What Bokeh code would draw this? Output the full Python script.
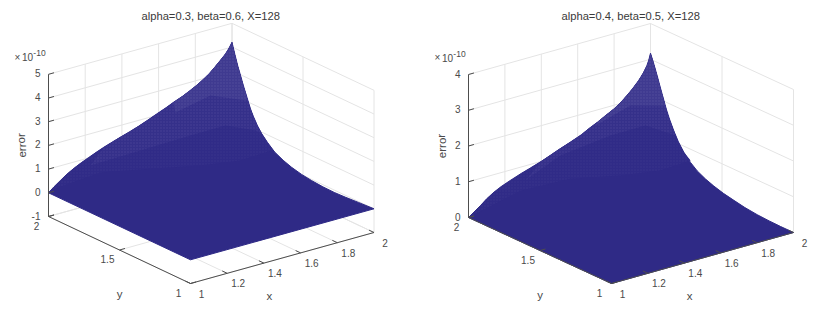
from bokeh.plotting import figure
from bokeh.layouts import row
from bokeh.models import Range1d
from bokeh.embed import file_html
from bokeh.resources import INLINE
from bokeh.core.properties import value

# ---- data -----------------------------------------------------------------
x_ticks = [1, 1.2, 1.4, 1.6, 1.8, 2]
x_tick_labels = ["1", "1.2", "1.4", "1.6", "1.8", "2"]
y_ticks = [1, 1.5, 2]
y_tick_labels = ["1", "1.5", "2"]

a_title = "alpha=0.3, beta=0.6, X=128"
a_z_ticks = [-1, 0, 1, 2, 3, 4, 5]
a_z_labels = ["-1", "0", "1", "2", "3", "4", "5"]
# surface edge y=2 (x runs from 1 to 2)
a_back_x = [1.0, 1.03, 1.065, 1.10, 1.14, 1.18, 1.22, 1.26, 1.30, 1.35, 1.39, 1.44, 1.49, 1.54, 1.59, 1.64, 1.68, 1.73, 1.77, 1.81, 1.85, 1.88, 1.91, 1.94, 1.965, 1.985, 2.0]
a_back_z = [0.0, 0.19, 0.38, 0.57, 0.74, 0.89, 1.02, 1.15, 1.27, 1.40, 1.50, 1.62, 1.75, 1.90, 2.06, 2.21, 2.35, 2.50, 2.65, 2.81, 3.0, 3.17, 3.38, 3.60, 3.79, 4.0, 4.20]
# surface edge x=2 (y runs from 2 to 1)
a_side_y = [2.0, 1.98, 1.96, 1.94, 1.92, 1.889, 1.87, 1.85, 1.82, 1.79, 1.75, 1.70, 1.64, 1.58, 1.51, 1.44, 1.36, 1.28, 1.20, 1.11, 1.0]
a_side_z = [4.20, 3.75, 3.33, 2.97, 2.60, 2.08, 1.76, 1.50, 1.18, 0.93, 0.68, 0.42, 0.24, 0.11, 0.01, -0.05, -0.09, -0.10, -0.08, -0.04, 0.0]
# limits of the paler, speckled parts of the surface
a_fade1 = ([1.0, 1.206, 1.401, 1.596, 1.698, 1.707], [1.95, 1.9, 1.8, 1.7, 1.55, 1.35], [0.32, 0.70, 0.72, 0.72, 1.13, 2.09])
a_fade2 = ([1.19, 1.409, 1.58, 1.655, 1.586], [1.95, 1.88, 1.75, 1.6, 1.3], [0.88, 1.24, 1.88, 2.56, 3.35])
a_fade3 = ([1.537, 1.612, 1.532], [1.8, 1.65, 1.3], [2.80, 3.78, 4.73])

b_title = "alpha=0.4, beta=0.5, X=128"
b_z_ticks = [0, 1, 2, 3, 4]
b_z_labels = ["0", "1", "2", "3", "4"]
b_back_x = [1.0, 1.03, 1.066, 1.10, 1.14, 1.18, 1.23, 1.29, 1.34, 1.40, 1.45, 1.50, 1.56, 1.62, 1.66, 1.71, 1.75, 1.80, 1.84, 1.87, 1.90, 1.935, 1.96, 1.98, 1.99, 2.0]
b_back_z = [0.0, 0.11, 0.24, 0.38, 0.51, 0.61, 0.71, 0.82, 0.90, 1.0, 1.10, 1.20, 1.31, 1.43, 1.54, 1.66, 1.77, 1.90, 2.04, 2.17, 2.31, 2.50, 2.67, 2.85, 2.98, 3.17]
b_side_y = [2.0, 1.98, 1.953, 1.93, 1.907, 1.888, 1.865, 1.837, 1.805, 1.767, 1.72, 1.673, 1.615, 1.557, 1.49, 1.417, 1.34, 1.254, 1.17, 1.09, 1.0]
b_side_z = [3.17, 2.95, 2.62, 2.32, 2.03, 1.79, 1.55, 1.30, 1.05, 0.83, 0.63, 0.48, 0.36, 0.27, 0.19, 0.13, 0.07, 0.03, 0.01, 0.0, 0.0]
b_fade1 = ([1.016, 1.207, 1.403, 1.6, 1.70, 1.71], [1.95, 1.9, 1.8, 1.7, 1.55, 1.35], [0.21, 0.64, 0.88, 0.87, 1.15, 1.78])
b_fade2 = ([1.274, 1.411, 1.584, 1.658, 1.587], [1.95, 1.88, 1.75, 1.6, 1.3], [0.74, 1.37, 1.92, 2.37, 2.75])
b_fade3 = ([1.541, 1.615, 1.532], [1.8, 1.65, 1.3], [2.17, 2.90, 3.67])

# ---- style ----------------------------------------------------------------
FONT = "Liberation Sans"
TEXT = "#4a4a4a"
AXIS = "#4d4d4d"
GRID = "#e4e4e4"
SOLID = "#2f2a86"
SHADES = ["#302b87", "#35308a", "#3f3a90"]
HATCH_ALPHA = [0.12, 0.3, 0.4]
TOP = 22
HEIGHT = 305


def panel(title, title_offset, left, right, ox, ex, ey, up_x, up_y, up_z, z_ticks, z_labels,
          back_x, back_z, side_y, side_z, fades, slices, xlab_off, ylab_off):
    p = figure(width=405, height=HEIGHT, toolbar_location=None, output_backend="svg",
               x_range=Range1d(left, right), y_range=Range1d(HEIGHT, TOP),
               x_axis_location=None, y_axis_location=None, min_border=0, min_border_top=TOP,
               outline_line_color=None)
    p.xgrid.visible = False
    p.ygrid.visible = False
    p.title.text = title
    p.title.align = "left"
    p.title.offset = title_offset
    p.title.text_font = FONT
    p.title.text_font_size = "11.2px"
    p.title.text_font_style = "normal"
    p.title.text_color = "#3a3a3a"
    p.title.standoff = 1

    zmin, zmax = z_ticks[0], z_ticks[-1]

    def sx(x, y):
        return ox + (x - 1) * ex - (y - 1) * ey

    def sy(x, y, z):
        return 283 - (x - 1) * up_x - (y - 1) * up_y - (z - zmin) * up_z

    def seg(a, b):
        return [sx(a[0], a[1]), sx(b[0], b[1])], [sy(*a), sy(*b)]

    # walls and floor
    lines = []
    for x in x_ticks:
        lines.append(seg((x, 1, zmin), (x, 2, zmin)))
        lines.append(seg((x, 2, zmin), (x, 2, zmax)))
    for y in y_ticks:
        lines.append(seg((1, y, zmin), (2, y, zmin)))
        lines.append(seg((2, y, zmin), (2, y, zmax)))
    for z in z_ticks:
        lines.append(seg((1, 2, z), (2, 2, z)))
        lines.append(seg((2, 2, z), (2, 1, z)))
    p.multi_line([l[0] for l in lines], [l[1] for l in lines], line_color=GRID, line_width=1)

    # surface
    bx = [sx(x, 2) for x in back_x]
    by = [sy(x, 2, z) for x, z in zip(back_x, back_z)]
    rx = [sx(2, y) for y in side_y]
    ry = [sy(2, y, z) for y, z in zip(side_y, side_z)]
    corner = (sx(1, 1), sy(1, 1, 0))
    p.patch(bx + rx[1:] + [corner[0]], by + ry[1:] + [corner[1]],
            fill_color=SOLID, line_color=SOLID, line_width=1)
    for shade, alpha, fade, (i, j) in zip(SHADES, HATCH_ALPHA, fades, slices):
        fx = [sx(a, b) for a, b in zip(fade[0], fade[1])]
        fy = [sy(a, b, c) for a, b, c in zip(*fade)]
        p.patch(bx[i:] + rx[1:j + 1] + fx[::-1], by[i:] + ry[1:j + 1] + fy[::-1],
                fill_color=shade, line_color=None, hatch_pattern="dot", hatch_color="#6f6ab0",
                hatch_alpha=alpha, hatch_scale=3, hatch_weight=1)

    # axes
    ax = [seg((1, 2, zmin), (1, 2, zmax)), seg((1, 1, zmin), (2, 1, zmin)), seg((1, 1, zmin), (1, 2, zmin))]
    for z in z_ticks:
        ax.append(seg((1, 2, z), (1.03, 2, z)))
    for x in x_ticks:
        ax.append(seg((x, 1, zmin), (x, 1.035, zmin)))
    for y in y_ticks:
        ax.append(seg((1, y, zmin), (1.03, y, zmin)))
    p.multi_line([l[0] for l in ax], [l[1] for l in ax], line_color=AXIS, line_width=1)

    def label(xs, ys, texts, dx, dy, size="10px", align="center", angle=0.0):
        p.text(xs, ys, text=texts, x_offset=dx, y_offset=dy, angle=angle,
               text_font=value(FONT), text_font_size=value(size), text_color=TEXT,
               text_align=align, text_baseline="middle")

    label([sx(x, 1) for x in x_ticks], [sy(x, 1, zmin) for x in x_ticks], x_tick_labels, 11, 10)
    label([sx(1, y) for y in y_ticks], [sy(1, y, zmin) for y in y_ticks], y_tick_labels, -12, 9)
    label([sx(1, 2)] * len(z_ticks), [sy(1, 2, z) for z in z_ticks], z_labels, -8, -1, align="right")

    label([sx(1.5, 1)], [sy(1.5, 1, zmin)], ["x"], xlab_off[0], xlab_off[1], size="11.5px")
    label([sx(1, 1.5)], [sy(1, 1.5, zmin)], ["y"], ylab_off[0], ylab_off[1], size="11.5px")
    label([sx(1, 2)], [sy(1, 2, (zmin + zmax) / 2)], ["error"], -27, 0, size="11.5px", angle=1.5708)

    # exponent
    topx, topy = sx(1, 2), sy(1, 2, zmax)
    label([topx], [topy], ["\u00d7"], -31, -17, size="10px")
    label([topx], [topy], ["10"], -21, -17, size="10px")
    label([topx], [topy], ["-10"], -9, -21, size="8.5px")
    return p


pa = panel(a_title, 141, 0, 405, 190, 183.5, 142, 51, 67, 23.7, a_z_ticks, a_z_labels,
           a_back_x, a_back_z, a_side_y, a_side_z, [a_fade1, a_fade2, a_fade3],
           [(0, 11), (8, 9), (16, 5)], (-13, 38), (0, 44))
pb = panel(b_title, 156, 405, 810, 611, 182, 143, 51, 66, 35.75, b_z_ticks, b_z_labels,
           b_back_x, b_back_z, b_side_y, b_side_z, [b_fade1, b_fade2, b_fade3],
           [(0, 9), (9, 7), (15, 5)], (-13, 38), (0, 44))

open("out.html", "w").write(file_html(row(pa, pb), INLINE))
